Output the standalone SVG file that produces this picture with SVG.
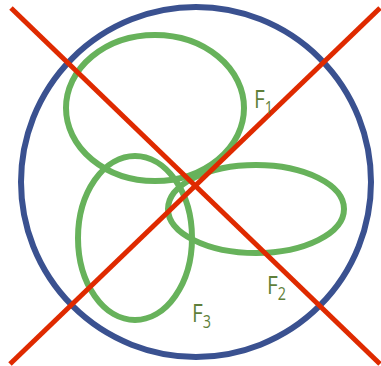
<svg xmlns="http://www.w3.org/2000/svg" width="381" height="366" viewBox="0 0 381 366">
<style>
.circ{fill:none;stroke:#3a5190;stroke-width:6}
.ell{fill:none;stroke:#67b25b;stroke-width:6}
.cross{stroke:#df2a00;stroke-width:5;stroke-linecap:butt}
.lbl{font-family:"Open Sans","DejaVu Sans",sans-serif;font-size:26px;fill:#5f7f3a}
.sub{font-size:18px}
</style>
<g id="circle"><circle class="circ" cx="196" cy="182" r="175"/></g>
<g id="F1set"><ellipse class="ell" cx="155" cy="108" rx="89" ry="73"/></g>
<g id="F2set"><ellipse class="ell" cx="256" cy="209" rx="88" ry="44"/></g>
<g id="F3set"><ellipse class="ell" cx="135" cy="238" rx="57" ry="82"/></g>
<g id="connectors">
<line class="cross" x1="11" y1="8" x2="380" y2="364"/>
<line class="cross" x1="380" y1="8" x2="10" y2="364"/>
</g>
<g id="labels">
<text class="lbl" transform="translate(254,108) scale(0.8,1)">F<tspan class="sub" dy="6">1</tspan></text>
<text class="lbl" transform="translate(267,294) scale(0.8,1)">F<tspan class="sub" dy="6">2</tspan></text>
<text class="lbl" transform="translate(192,322) scale(0.8,1)">F<tspan class="sub" dy="6">3</tspan></text>
</g>
</svg>
